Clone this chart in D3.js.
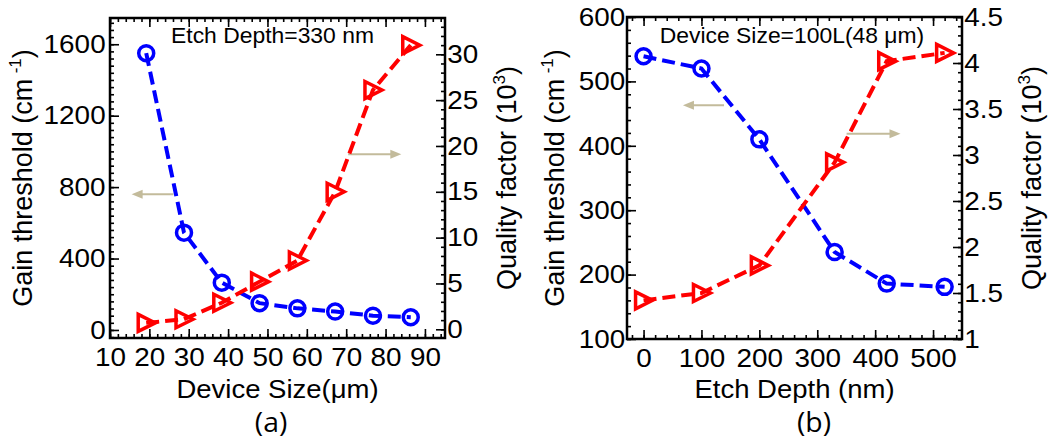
<!DOCTYPE html>
<html>
<head>
<meta charset="utf-8">
<script src="https://d3js.org/d3.v7.min.js"></script>
<style>
body { margin: 0; background: #fff; }
svg text { font-family: 'Liberation Sans', Arial, sans-serif; fill: #000; }
</style>
</head>
<body>
<svg id="chart" width="1055" height="444"></svg>
<script>
'use strict';

// (a) size sweep at 330 nm etch depth
var sizeA = [19.2, 28.8, 38.4, 48, 57.6, 67.2, 76.8, 86.4];
var gainA = [1550, 545, 265, 150, 121, 103, 80, 71];
var qualityA = [0.7, 1.1, 2.9, 5.2, 7.5, 15.0, 26.1, 31.0];
var xTicksA = [10, 20, 30, 40, 50, 60, 70, 80, 90];
var gainTicksA = [0, 400, 800, 1200, 1600];
var qTicksA = [0, 5, 10, 15, 20, 25, 30];

// (b) etch depth sweep at 100L (48 um)
var depthB = [0, 100, 200, 330, 420, 520];
var gainB = [539, 520, 410, 235, 186, 181];
var qualityB = [1.42, 1.5, 1.8, 2.92, 4.02, 4.11];
var xTicksB = [0, 100, 200, 300, 400, 500];
var gainTicksB = [100, 200, 300, 400, 500, 600];
var qTicksB = [1, 1.5, 2, 2.5, 3, 3.5, 4, 4.5];

// the source figure is a little wider than tall in its lettering
var stretch = 1.09;

var svg = d3.select('#chart');
svg.append('rect').attr('width', 1055).attr('height', 444).attr('fill', '#fff');

var panels = [
    {
        left: 110, right: 445, top: 18, bottom: 338,
        xDomain: [10, 95.1], gainDomain: [-45, 1747], qDomain: [-0.95, 33.96],
        xs: sizeA, gain: gainA, quality: qualityA,
        xTicks: xTicksA, gainTicks: gainTicksA, qTicks: qTicksA,
        xMinor: 2, gainMinor: 40, qMinor: 1,
        leftPad: 4, rightPad: 2,
        note: 'Etch Depth=330 nm', noteX: 272.5, xTitle: 'Device Size(\u03bcm)', tag: '(a)', tagX: 271,
        leftTitleX: 32, rightTitleX: 516,
        leftArrow: [26.1, 15.5, 760], rightArrow: [70.5, 84.0, 19.1]
    },
    {
        left: 627, right: 962, top: 17, bottom: 339,
        xDomain: [-28.6, 550], gainDomain: [100, 600], qDomain: [1, 4.5],
        xs: depthB, gain: gainB, quality: qualityB,
        xTicks: xTicksB, gainTicks: gainTicksB, qTicks: qTicksB,
        xMinor: 20, gainMinor: 20, qMinor: 0.1,
        leftPad: 1.5, rightPad: 2,
        note: 'Device Size=100L(48 \u03bcm)', noteX: 792, xTitle: 'Etch Depth (nm)', tag: '(b)', tagX: 814,
        leftTitleX: 564, rightTitleX: 1041,
        leftArrow: [139, 68, 463], rightArrow: [350.7, 443.8, 3.23]
    }
];

function minorValues(domain, step) {
    var lo = Math.min(domain[0], domain[1]), hi = Math.max(domain[0], domain[1]);
    var start = Math.ceil(lo / step - 1e-9) * step;
    return d3.range(start, hi + 1e-9, step).map(function (v) { return +v.toFixed(6); });
}

function styleAxis(g) {
    g.attr('font-size', null).attr('font-family', null);
    g.select('.domain').remove();
    g.selectAll('line').attr('stroke', '#000').attr('stroke-width', 1.6);
    g.selectAll('text')
        .style('font-size', '25.6px')
        .attr('transform', 'scale(' + stretch + ',1)');
}

function wideText(g, x, y, size, sx, str) {
    return g.append('text')
        .attr('transform', 'translate(' + x + ',' + y + ') scale(' + sx + ',1)')
        .attr('text-anchor', 'middle').style('font-size', size + 'px')
        .text(str);
}

function drawPanel(p) {
    var g = svg.append('g');
    var x = d3.scaleLinear().domain(p.xDomain).range([p.left, p.right]);
    var yL = d3.scaleLinear().domain(p.gainDomain).range([p.bottom, p.top]);
    var yR = d3.scaleLinear().domain(p.qDomain).range([p.bottom, p.top]);
    var fmt = function (d) { return String(d); };

    // minor ticks first, majors on top
    g.append('g').attr('transform', 'translate(0,' + p.bottom + ')')
        .call(d3.axisBottom(x).tickValues(minorValues(p.xDomain, p.xMinor)).tickSize(-4).tickFormat(''))
        .call(styleAxis);
    g.append('g').attr('transform', 'translate(0,' + p.top + ')')
        .call(d3.axisTop(x).tickValues(minorValues(p.xDomain, p.xMinor)).tickSize(-4).tickFormat(''))
        .call(styleAxis);
    g.append('g').attr('transform', 'translate(' + p.left + ',0)')
        .call(d3.axisLeft(yL).tickValues(minorValues(p.gainDomain, p.gainMinor)).tickSize(-4).tickFormat(''))
        .call(styleAxis);
    g.append('g').attr('transform', 'translate(' + p.right + ',0)')
        .call(d3.axisRight(yR).tickValues(minorValues(p.qDomain, p.qMinor)).tickSize(-4).tickFormat(''))
        .call(styleAxis);

    g.append('g').attr('transform', 'translate(0,' + p.bottom + ')')
        .call(d3.axisBottom(x).tickValues(p.xTicks).tickSize(-9).tickPadding(10).tickFormat(fmt))
        .call(styleAxis);
    g.append('g').attr('transform', 'translate(0,' + p.top + ')')
        .call(d3.axisTop(x).tickValues(p.xTicks).tickSize(-9).tickFormat(''))
        .call(styleAxis);
    g.append('g').attr('transform', 'translate(' + p.left + ',0)')
        .call(d3.axisLeft(yL).tickValues(p.gainTicks).tickSize(-9).tickPadding(p.leftPad).tickFormat(fmt))
        .call(styleAxis);
    g.append('g').attr('transform', 'translate(' + p.right + ',0)')
        .call(d3.axisRight(yR).tickValues(p.qTicks).tickSize(-9).tickPadding(p.rightPad).tickFormat(fmt))
        .call(styleAxis);

    g.append('rect')
        .attr('x', p.left).attr('y', p.top)
        .attr('width', p.right - p.left).attr('height', p.bottom - p.top)
        .attr('fill', 'none').attr('stroke', '#000').attr('stroke-width', 2.5);

    // arrows pointing to each series' axis
    var arrowColor = '#c3bb9b';
    function arrow(x1, x2, y) {
        var dir = x2 > x1 ? 1 : -1;
        g.append('line')
            .attr('x1', x1).attr('x2', x2 - dir * 8).attr('y1', y).attr('y2', y)
            .attr('stroke', arrowColor).attr('stroke-width', 2);
        g.append('path')
            .attr('d', 'M' + x2 + ',' + y + 'L' + (x2 - dir * 11) + ',' + (y - 4.5) + 'L' + (x2 - dir * 11) + ',' + (y + 4.5) + 'Z')
            .attr('fill', arrowColor);
    }
    arrow(x(p.leftArrow[0]), x(p.leftArrow[1]), yL(p.leftArrow[2]));
    arrow(x(p.rightArrow[0]), x(p.rightArrow[1]), yR(p.rightArrow[2]));

    var gainPts = p.xs.map(function (v, i) { return [v, p.gain[i]]; });
    var qPts = p.xs.map(function (v, i) { return [v, p.quality[i]]; });

    g.append('path').datum(gainPts)
        .attr('d', d3.line().x(function (d) { return x(d[0]); }).y(function (d) { return yL(d[1]); }))
        .attr('fill', 'none').attr('stroke', '#0000ff').attr('stroke-width', 4)
        .attr('stroke-dasharray', '13,6');
    g.selectAll('circle.gain').data(gainPts).enter().append('circle')
        .attr('class', 'gain')
        .attr('cx', function (d) { return x(d[0]); })
        .attr('cy', function (d) { return yL(d[1]); })
        .attr('r', 7.5)
        .attr('fill', 'none').attr('stroke', '#0000ff').attr('stroke-width', 3.5);

    g.append('path').datum(qPts)
        .attr('d', d3.line().x(function (d) { return x(d[0]); }).y(function (d) { return yR(d[1]); }))
        .attr('fill', 'none').attr('stroke', '#ff0000').attr('stroke-width', 4)
        .attr('stroke-dasharray', '13,6');
    g.selectAll('path.quality').data(qPts).enter().append('path')
        .attr('class', 'quality')
        .attr('transform', function (d) { return 'translate(' + x(d[0]) + ',' + yR(d[1]) + ')'; })
        .attr('d', 'M-8,-8.5L9,0L-8,8.5Z')
        .attr('fill', 'none').attr('stroke', '#ff0000').attr('stroke-width', 3.5)
        .attr('stroke-linejoin', 'miter');

    var cx = (p.left + p.right) / 2;
    var cy = (p.top + p.bottom) / 2;

    wideText(g, p.noteX, 42.5, 21.4, 1.07, p.note);
    wideText(g, cx, 398, 25, 1.1, p.xTitle);
    wideText(g, p.tagX, 432, 27, 1.05, p.tag)
        .style('font-family', "'Open Sans', sans-serif");

    var lt = g.append('text')
        .attr('transform', 'translate(' + p.leftTitleX + ',' + cy + ') rotate(-90)')
        .attr('text-anchor', 'middle').style('font-size', '27px');
    lt.append('tspan').text('Gain threshold (cm\u2009');
    lt.append('tspan').attr('dy', -11).style('font-size', '17px').text('-1');
    lt.append('tspan').attr('dy', 11).text(')');

    var rt = g.append('text')
        .attr('transform', 'translate(' + p.rightTitleX + ',' + cy + ') rotate(-90)')
        .attr('text-anchor', 'middle').style('font-size', '27px');
    rt.append('tspan').text('Quality factor (10');
    rt.append('tspan').attr('dy', -11).style('font-size', '17px').text('3');
    rt.append('tspan').attr('dy', 11).text(')');
}

panels.forEach(drawPanel);
</script>
</body>
</html>
